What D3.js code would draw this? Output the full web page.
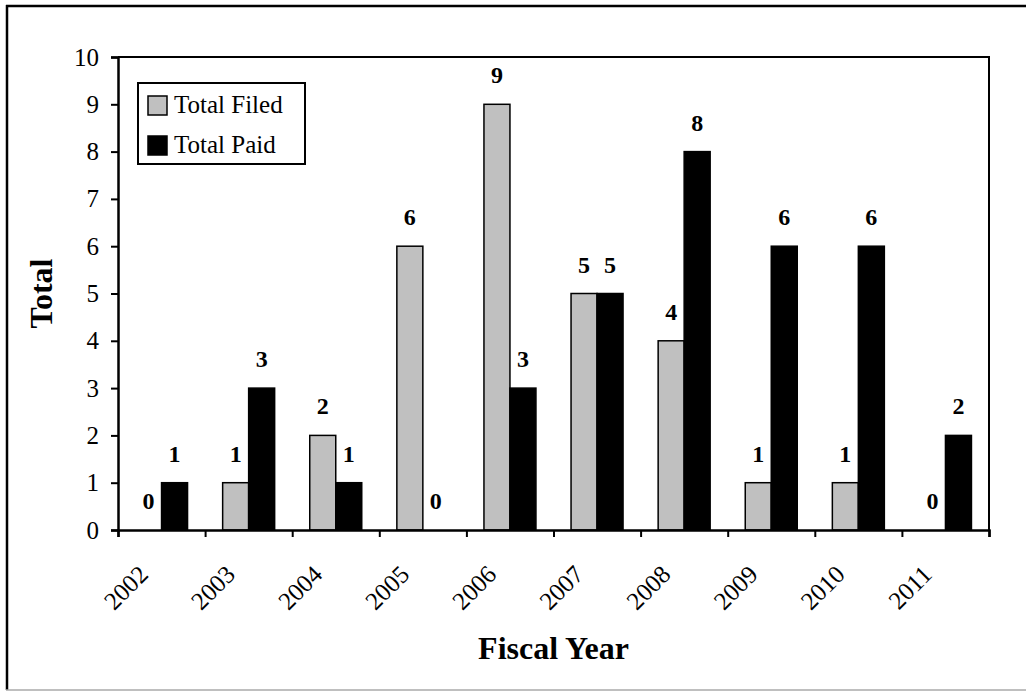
<!DOCTYPE html>
<html>
<head>
<meta charset="utf-8">
<script src="https://cdn.jsdelivr.net/npm/d3@7"></script>
<style>
  body { margin: 0; background: #fff; }
  svg { display: block; font-family: "Liberation Serif", "Times New Roman", serif; }
</style>
</head>
<body>
<div class="chart"></div>
<script>
// data
const years = ["2002","2003","2004","2005","2006","2007","2008","2009","2010","2011"];
const filed = [0, 1, 2, 6, 9, 5, 4, 1, 1, 0];
const paid  = [1, 3, 1, 0, 3, 5, 8, 6, 6, 2];
const seriesNames = ["Total Filed", "Total Paid"];
const yTicks = [0,1,2,3,4,5,6,7,8,9,10];

const W = 1026, H = 692;
const plot = {left:118, right:989, top:57, bottom:530};

const svg = d3.select(".chart").append("svg")
    .attr("width", W)
    .attr("height", H);

// outer frame
svg.append("line").attr("x1",7).attr("y1",5).attr("x2",7).attr("y2",690)
    .attr("stroke","#000").attr("stroke-width",2.5);
svg.append("line").attr("x1",6).attr("y1",6).attr("x2",W).attr("y2",6)
    .attr("stroke","#000").attr("stroke-width",2.5);
svg.append("line").attr("x1",6).attr("y1",690).attr("x2",W).attr("y2",690)
    .attr("stroke","#aaa").attr("stroke-width",1.5);

const xScale = d3.scaleBand()
    .domain(years)
    .range([plot.left, plot.right])
    .padding(0);
const bw = xScale.bandwidth();

const barW = 26;
const xInner = d3.scaleBand()
    .domain(seriesNames)
    .range([bw/2 - barW, bw/2 + barW]);

const yScale = d3.scaleLinear()
    .domain([0, 10])
    .range([plot.bottom, plot.top]);

// plot area border (top and right)
svg.append("path")
    .attr("d", `M${plot.left},${plot.top}H${plot.right}V${plot.bottom}`)
    .attr("fill","none").attr("stroke","#000").attr("stroke-width",2);

const table = years.map((y,i)=>({year:y, values:[
    {key:seriesNames[0], v:filed[i]},
    {key:seriesNames[1], v:paid[i]}
]}));
const colors = {"Total Filed":"#c0c0c0", "Total Paid":"#000"};

const groups = svg.selectAll(".grp")
    .data(table)
    .enter().append("g")
    .attr("class","grp")
    .attr("transform", d=>`translate(${xScale(d.year)},0)`);

groups.selectAll("rect")
    .data(d=>d.values.filter(v=>v.v>0))
    .enter().append("rect")
    .attr("x", d=>xInner(d.key))
    .attr("width", xInner.bandwidth())
    .attr("y", d=>yScale(d.v))
    .attr("height", d=>yScale(0)-yScale(d.v))
    .attr("fill", d=>colors[d.key])
    .attr("stroke","#000")
    .attr("stroke-width",1.5);

groups.selectAll(".lbl")
    .data(d=>d.values)
    .enter().append("text")
    .attr("class","lbl")
    .attr("x", d=>xInner(d.key) + xInner.bandwidth()/2)
    .attr("y", d=>yScale(d.v) - 21)
    .attr("text-anchor","middle")
    .attr("font-weight","bold")
    .attr("font-size",24)
    .text(d=>d.v);

// y axis
const yAxis = d3.axisLeft(yScale).tickValues(yTicks).tickSize(7).tickPadding(12);
const gy = svg.append("g")
    .attr("transform",`translate(${plot.left},0)`)
    .call(yAxis);
gy.select(".domain").attr("stroke-width",2.5);
gy.selectAll(".tick line").attr("stroke-width",2);
gy.selectAll("text").attr("font-size",25).attr("font-family","Liberation Serif").attr("fill","#000");

// x axis: ticks at the category boundaries
const xEdge = d3.scaleLinear().domain([0, years.length]).range([plot.left, plot.right]);
const gxTicks = svg.append("g")
    .attr("transform",`translate(0,${plot.bottom})`)
    .call(d3.axisBottom(xEdge).ticks(years.length).tickSize(7).tickFormat(""));
gxTicks.select(".domain").attr("stroke-width",2.5);
gxTicks.selectAll(".tick line").attr("stroke-width",2);

const gx = svg.append("g")
    .attr("transform",`translate(0,${plot.bottom})`)
    .call(d3.axisBottom(xScale).tickSize(0));
gx.select(".domain").remove();
gx.selectAll("text")
    .attr("font-size",25)
    .attr("font-family","Liberation Serif")
    .attr("fill","#000")
    .attr("y",0).attr("dy",0)
    .attr("text-anchor","end")
    .attr("transform","translate(-12,46) rotate(-45)");

// axis titles
svg.append("text")
    .attr("x",(plot.left+plot.right)/2)
    .attr("y",659)
    .attr("text-anchor","middle")
    .attr("font-weight","bold")
    .attr("font-size",32)
    .text("Fiscal Year");

svg.append("text")
    .attr("transform",`translate(52,${(plot.top+plot.bottom)/2}) rotate(-90)`)
    .attr("text-anchor","middle")
    .attr("font-weight","bold")
    .attr("font-size",32)
    .text("Total");

// legend
const legend = svg.append("g").attr("transform","translate(138,83)");
legend.append("rect")
    .attr("width",167).attr("height",81)
    .attr("fill","#fff").attr("stroke","#000").attr("stroke-width",2);
const items = legend.selectAll(".item")
    .data(seriesNames)
    .enter().append("g")
    .attr("transform",(d,i)=>`translate(10,${13 + i*40})`);
items.append("rect")
    .attr("width",19).attr("height",19)
    .attr("fill",d=>colors[d]).attr("stroke","#000").attr("stroke-width",1.5);
items.append("text")
    .attr("x",26).attr("y",17)
    .attr("font-size",25)
    .text(d=>d);
</script>
</body>
</html>
